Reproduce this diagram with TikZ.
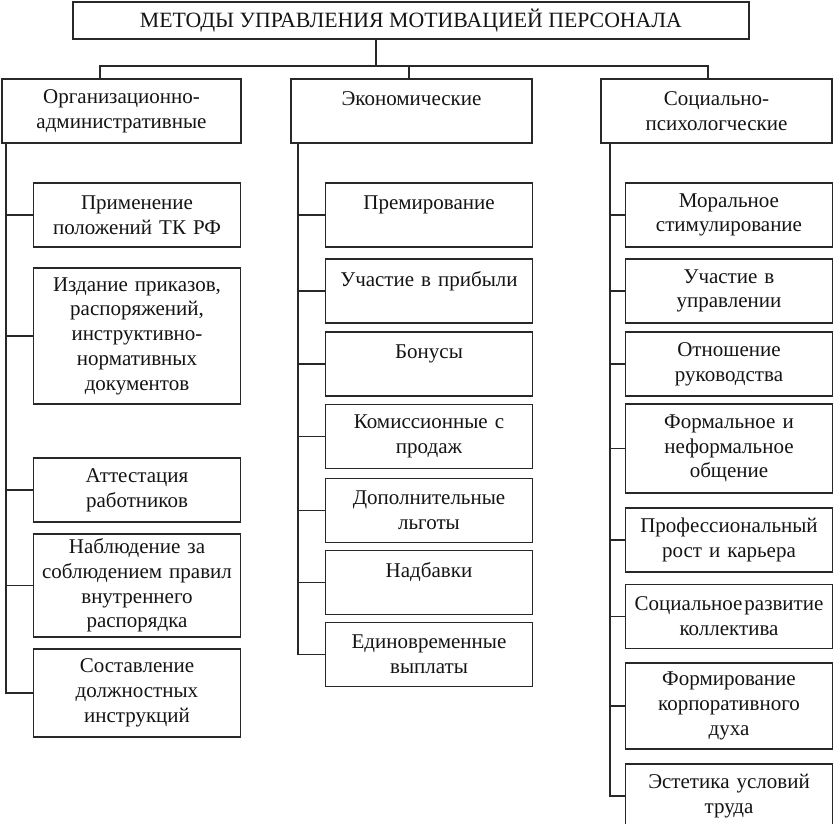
\documentclass[tikz,border=0pt]{standalone}
\usepackage{fontspec}
\setmainfont{Liberation Serif}
\usepackage{tikz}
\usetikzlibrary{positioning,calc}
\usepackage{xcolor}
\definecolor{linecol}{RGB}{40,40,40}
\definecolor{txtcol}{RGB}{20,20,20}
\tikzset{
  % plain framed box
  mbox/.style={rectangle, draw=linecol, line width=1.8pt, fill=white, align=center,
               inner sep=2pt, text=txtcol, font=\fontsize{21}{24.75}\selectfont},
  % title box
  titlebox/.style={mbox, minimum width=676pt, minimum height=37pt, font=\fontsize{21.8}{24.75}\selectfont},
  % group box
  catbox/.style={mbox, minimum height=64pt, text width=225pt},
  % method box
  leafbox/.style={mbox, minimum width=207pt, text width=201pt, minimum height=#1},
  leafbox/.default={64pt},
  % connector line
  cline/.style={draw=linecol, line width=1.8pt},
}

\begin{document}
\begin{tikzpicture}[x=1pt, y=-1pt]
  \useasboundingbox (0,0) rectangle (834,823);
  \fill[white] (0,0) rectangle (834,823);
  \clip (0,0) rectangle (834,823);

  % title
  \node[titlebox] (title) at (411,20.5) {МЕТОДЫ УПРАВЛЕНИЯ МОТИВАЦИЕЙ ПЕРСОНАЛА};

  % groups
  \node[catbox, minimum width=239pt] (org) at (121.5,111) {Организационно-\\административные};
  \node[catbox, minimum width=241pt] (eco) at (411.5,111) {Экономические\\~};
  \node[catbox, minimum width=231pt] (soc) at (716.5,111) {Социально-\\психологческие};

  % organisational methods
  \node[leafbox] (o1) at (137,215) {Применение\\положений ТК РФ};
  \node[leafbox=136pt] (o2) at (137,336) {Издание приказов,\\распоряжений,\\инструктивно-\\нормативных\\документов};
  \node[leafbox] (o3) at (137,490) {Аттестация\\работников};
  \node[leafbox=103pt] (o4) at (137,585.5) {Наблюдение за\\соблюдением правил\\внутреннего\\распорядка};
  \node[leafbox=88pt] (o5) at (137,693) {Составление\\должностных\\инструкций};

  % economic methods
  \node[leafbox] (e1) at (429,215) {Премирование\\~};
  \node[leafbox] (e2) at (429,291) {Участие в прибыли\\~};
  \node[leafbox] (e3) at (429,364) {Бонусы\\~};
  \node[leafbox] (e4) at (429,436.5) {Комиссионные с\\продаж};
  \node[leafbox] (e5) at (429,510.5) {Дополнительные\\льготы};
  \node[leafbox] (e6) at (429,582.5) {Надбавки\\~};
  \node[leafbox] (e7) at (429,654.5) {Единовременные\\выплаты};

  % socio-psychological methods
  \node[leafbox] (s1) at (729,215) {Моральное\\стимулирование};
  \node[leafbox] (s2) at (729,291) {Участие в\\управлении};
  \node[leafbox] (s3) at (729,364) {Отношение\\руководства};
  \node[leafbox=89pt] (s4) at (729,448.5) {Формальное и\\неформальное\\общение};
  \node[leafbox] (s5) at (729,540) {Профессиональный\\рост и карьера};
  \node[leafbox] (s6) at (729,616.5) {Социальное\hspace{2pt}развитие\\коллектива};
  \node[leafbox=86pt] (s7) at (729,706) {Формирование\\корпоративного\\духа};
  \node[leafbox] (s8) at (729,796) {Эстетика условий\\труда};

  % title to groups
  \coordinate (hub) at (376,66);
  \draw[cline] (title.south -| hub) -- (hub);
  \draw[cline] (hub) -| ([xshift=-21.5pt]org.north);
  \draw[cline] (hub) -| ([xshift=-2.5pt]eco.north);
  \draw[cline] (hub) -| ([xshift=-8.5pt]soc.north);

  % org trunk
  \draw[cline] ([xshift=5pt]org.south west) |- (o1.west);
  \draw[cline] ([xshift=5pt]org.south west) |- (o2.west);
  \draw[cline] ([xshift=5pt]org.south west) |- (o3.west);
  \draw[cline] ([xshift=5pt]org.south west) |- (o4.west);
  \draw[cline] ([xshift=5pt]org.south west) |- (o5.west);

  % eco trunk
  \draw[cline] ([xshift=8pt]eco.south west) |- (e1.west);
  \draw[cline] ([xshift=8pt]eco.south west) |- (e2.west);
  \draw[cline] ([xshift=8pt]eco.south west) |- (e3.west);
  \draw[cline] ([xshift=8pt]eco.south west) |- (e4.west);
  \draw[cline] ([xshift=8pt]eco.south west) |- (e5.west);
  \draw[cline] ([xshift=8pt]eco.south west) |- (e6.west);
  \draw[cline] ([xshift=8pt]eco.south west) |- (e7.west);

  % soc trunk
  \draw[cline] ([xshift=10pt]soc.south west) |- (s1.west);
  \draw[cline] ([xshift=10pt]soc.south west) |- (s2.west);
  \draw[cline] ([xshift=10pt]soc.south west) |- (s3.west);
  \draw[cline] ([xshift=10pt]soc.south west) |- (s4.west);
  \draw[cline] ([xshift=10pt]soc.south west) |- (s5.west);
  \draw[cline] ([xshift=10pt]soc.south west) |- (s6.west);
  \draw[cline] ([xshift=10pt]soc.south west) |- (s7.west);
  \draw[cline] ([xshift=10pt]soc.south west) |- (s8.west);
\end{tikzpicture}
\end{document}
